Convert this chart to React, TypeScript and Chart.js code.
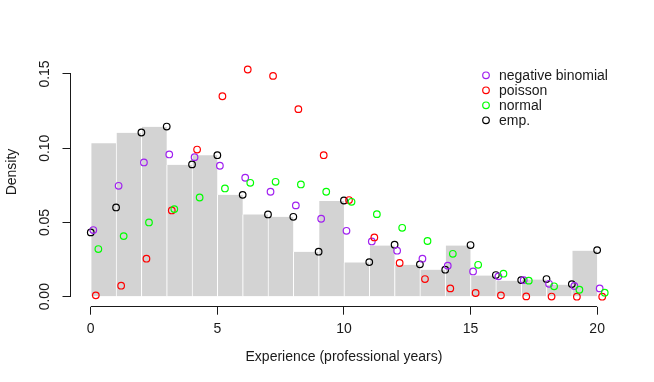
import React, { useEffect, useRef } from 'react';
import { Chart, registerables } from 'chart.js';

Chart.register(...registerables);

// ---- data ----
const xValues = [0, 1, 2, 3, 4, 5, 6, 7, 8, 9, 10, 11, 12, 13, 14, 15, 16, 17, 18, 19, 20];
const binStarts = [0, 1, 2, 3, 4, 5, 6, 7, 8, 9, 10, 11, 12, 13, 14, 15, 16, 17, 18, 19];
const histDensity = [0.1034, 0.1104, 0.1144, 0.0888, 0.0953, 0.0686, 0.0554, 0.0538, 0.0303, 0.0644,
  0.0231, 0.0345, 0.0215, 0.0182, 0.0345, 0.0143, 0.0108, 0.0116, 0.0081, 0.031];
const empDensity = [0.0433, 0.0601, 0.1106, 0.1146, 0.0891, 0.0953, 0.0686, 0.0554, 0.0538, 0.0303, 0.0648,
  0.0233, 0.035, 0.0218, 0.0182, 0.0348, 0.0146, 0.0112, 0.0119, 0.0085, 0.0314];
const negBinDensity = [0.0449, 0.0747, 0.0904, 0.0958, 0.094, 0.0882, 0.0801, 0.0707, 0.0615, 0.0525, 0.0444,
  0.0372, 0.031, 0.0256, 0.0209, 0.017, 0.0137, 0.0112, 0.0087, 0.0072, 0.0056];
const poissonDensity = [0.0009, 0.0074, 0.0256, 0.0581, 0.0991, 0.135, 0.153, 0.1487, 0.1263, 0.0953, 0.0651,
  0.0399, 0.0227, 0.0119, 0.0056, 0.0025, 0.0009, 0.0002, 0.0001, 0.0, 0.0];
const normalDensity = [0.0321, 0.0408, 0.05, 0.059, 0.0668, 0.0729, 0.0767, 0.0774, 0.0756, 0.0707, 0.0639,
  0.0556, 0.0464, 0.0375, 0.0289, 0.0215, 0.0155, 0.0108, 0.007, 0.0047, 0.0027];
const xTicks = [0, 5, 10, 15, 20];
const yTicks = [0, 0.05, 0.1, 0.15];
const seriesLabels = ['negative binomial', 'poisson', 'normal', 'emp.'];

const FONT = '"Liberation Sans", Arial, Helvetica, sans-serif';
const TEXT = '#1a1a1a';

const alignPx = (p: number) => Math.round(p - 0.5) + 0.5;

const rStylePlugin = {
  id: 'rStyle',
  afterDraw(chart: any) {
    const { ctx, chartArea, scales } = chart;
    const xs = scales.x;
    const ys = scales.y;
    ctx.save();
    ctx.strokeStyle = TEXT;
    ctx.lineWidth = 1;
    // y axis line, spanning first to last tick
    const ax = alignPx(chartArea.left);
    ctx.beginPath();
    ctx.moveTo(ax, ys.getPixelForValue(yTicks[0]));
    ctx.lineTo(ax, ys.getPixelForValue(yTicks[yTicks.length - 1]));
    ctx.stroke();
    // x axis line
    const ay = alignPx(chartArea.bottom);
    ctx.beginPath();
    ctx.moveTo(xs.getPixelForValue(xTicks[0]), ay);
    ctx.lineTo(xs.getPixelForValue(xTicks[xTicks.length - 1]), ay);
    ctx.stroke();

    // legend (top right, R style)
    const pointSets = chart.data.datasets.filter((d: any) => d.type === 'scatter');
    const lx = 486;
    const ly0 = 75.3;
    const step = 15;
    ctx.font = `14px ${FONT}`;
    ctx.textBaseline = 'middle';
    ctx.textAlign = 'left';
    seriesLabels.forEach((lab, i) => {
      const ds = pointSets.find((d: any) => d.label === lab);
      const yy = ly0 + i * step;
      ctx.beginPath();
      ctx.lineWidth = 1.2;
      ctx.strokeStyle = ds ? ds.borderColor : TEXT;
      ctx.arc(lx, yy, 3.3, 0, Math.PI * 2);
      ctx.stroke();
      ctx.fillStyle = TEXT;
      ctx.fillText(lab, lx + 13, yy + 0.5);
    });
    ctx.restore();
  },
};

export default function App() {
  const ref = useRef<HTMLCanvasElement | null>(null);

  useEffect(() => {
    if (!ref.current) return;
    const mkPoints = (vals: number[], shift: number) =>
      xValues.map((x, i) => ({ x: x + shift, y: vals[i] }));
    const pointStyle = (label: string, color: string, vals: number[], shift: number, order: number) => ({
      type: 'scatter' as const,
      label,
      data: mkPoints(vals, shift),
      borderColor: color,
      backgroundColor: 'rgba(0,0,0,0)',
      pointRadius: 3.3,
      pointBorderWidth: 1.2,
      pointHoverRadius: 3.3,
      order,
    });

    const chart = new Chart(ref.current, {
      type: 'bar',
      data: {
        datasets: [
          {
            type: 'bar',
            label: 'hist',
            data: binStarts.map((b, i) => ({ x: b + 0.5, y: histDensity[i] })),
            backgroundColor: '#d3d3d3',
            borderColor: '#ffffff',
            borderWidth: { left: 1, right: 0, top: 0, bottom: 0 },
            borderSkipped: false,
            barPercentage: 1,
            categoryPercentage: 1,
            order: 10,
          } as any,
          pointStyle('emp.', '#000000', empDensity, 0, 4),
          pointStyle('negative binomial', '#a020f0', negBinDensity, 0.1, 3),
          pointStyle('poisson', '#ff0000', poissonDensity, 0.2, 2),
          pointStyle('normal', '#00ff00', normalDensity, 0.3, 1),
        ],
      },
      options: {
        animation: false,
        responsive: false,
        events: [],
        layout: { padding: { top: 37.3, right: 36.6, left: 0, bottom: 0 }, autoPadding: false } as any,
        plugins: { legend: { display: false }, tooltip: { enabled: false } },
        scales: {
          x: {
            type: 'linear',
            min: -0.8,
            max: 20.8,
            offset: false,
            afterFit: (s: any) => { s.height = 75.3; },
            afterBuildTicks: (s: any) => { s.ticks = xTicks.map((v) => ({ value: v })); },
            grid: { offset: false, drawOnChartArea: false, drawTicks: true, tickLength: 8, color: TEXT },
            border: { display: false },
            ticks: {
              font: { family: FONT, size: 14 },
              color: TEXT,
              padding: 6,
              maxRotation: 0,
              autoSkip: false,
              callback: (v: any) => String(v),
            },
            title: {
              display: true,
              text: 'Experience (professional years)',
              font: { family: FONT, size: 14 },
              color: TEXT,
              padding: { top: 0, bottom: 16.6 },
            },
          },
          y: {
            type: 'linear',
            min: -0.00673,
            max: 0.1747,
            afterFit: (s: any) => { s.width = 70.5; },
            afterBuildTicks: (s: any) => { s.ticks = yTicks.map((v) => ({ value: v })); },
            grid: { drawOnChartArea: false, drawTicks: true, tickLength: 8, color: TEXT },
            border: { display: false },
            ticks: {
              font: { family: FONT, size: 14 },
              color: TEXT,
              padding: 4,
              minRotation: 90,
              maxRotation: 90,
              crossAlign: 'center',
              autoSkip: false,
              callback: (v: any) => Number(v).toFixed(2),
            },
            title: {
              display: true,
              text: 'Density',
              font: { family: FONT, size: 14 },
              color: TEXT,
              padding: { top: 3.3, bottom: 0 },
            },
          },
        },
      } as any,
      plugins: [rStylePlugin],
    });
    return () => chart.destroy();
  }, []);

  return (
    <div style={{ position: 'fixed', left: 0, top: 0, width: 654, height: 382, background: '#fff' }}>
      <canvas ref={ref} width={654} height={382} style={{ display: 'block', width: 654, height: 382 }} />
    </div>
  );
}
